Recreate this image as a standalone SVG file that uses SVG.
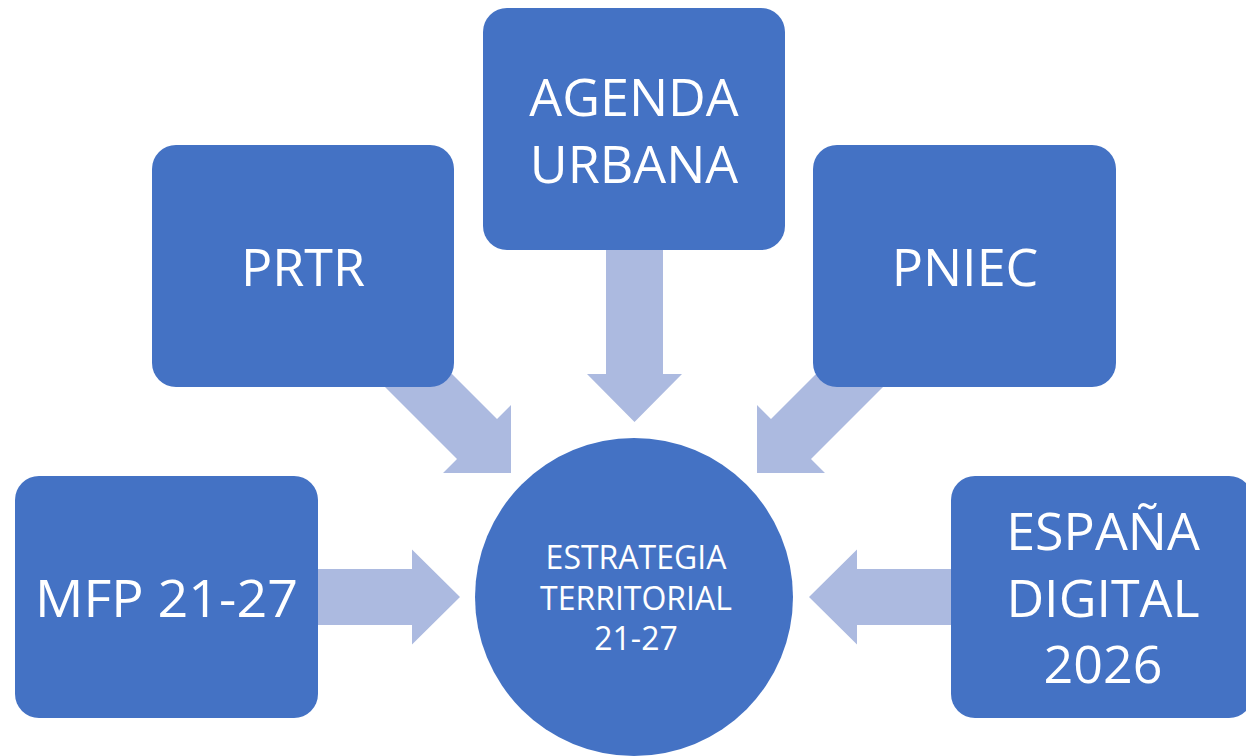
<svg xmlns="http://www.w3.org/2000/svg" width="1246" height="756" viewBox="0 0 1246 756">
<style>
.box{fill:#4472C4}
.arr{fill:#ACBAE0}
.t{font-family:"Open Sans","Noto Sans","DejaVu Sans",sans-serif;fill:#FFFFFF;text-anchor:middle}
.big{font-size:52px}
.small{font-size:32px}
</style>
<rect width="1246" height="756" fill="#FFFFFF"/>
<g id="connectors">
<polygon class="arr" points="300,569 412,569 412,549.5 460,597 412,644.5 412,625 300,625"/>
<polygon class="arr" points="960,569 857,569 857,549.5 809,597 857,644.5 857,625 960,625"/>
<polygon class="arr" points="606,240 663,240 663,374 682,374 634.5,422 587,374 606,374"/>
<polygon class="arr" points="412,334 497,419 511,405 511,473 443,473 457,459 372,374"/>
<polygon class="arr" points="856,334 771,419 757,405 757,473 825,473 811,459 896,374"/>
</g>
<g id="node-agenda">
<rect class="box" x="483" y="8" width="302" height="242" rx="24"/>
<text class="t big" x="634" y="116">AGENDA</text>
<text class="t big" x="634" y="183">URBANA</text>
</g>
<g id="node-prtr">
<rect class="box" x="152" y="145" width="302" height="242" rx="24"/>
<text class="t big" x="303" y="286">PRTR</text>
</g>
<g id="node-pniec">
<rect class="box" x="813" y="145" width="303" height="242" rx="24"/>
<text class="t big" x="965" y="286">PNIEC</text>
</g>
<g id="node-mfp">
<rect class="box" x="15" y="476" width="303" height="242" rx="24"/>
<text class="t big" x="166.5" y="617" textLength="263" lengthAdjust="spacingAndGlyphs">MFP 21-27</text>
</g>
<g id="node-espana">
<rect class="box" x="951" y="476" width="302" height="242" rx="24"/>
<text class="t big" x="1103" y="550">ESPAÑA</text>
<text class="t big" x="1103" y="617">DIGITAL</text>
<text class="t big" x="1103" y="683">2026</text>
</g>
<g id="node-estrategia">
<circle class="box" cx="634" cy="597" r="159"/>
<text class="t small" x="636" y="569">ESTRATEGIA</text>
<text class="t small" x="636" y="610">TERRITORIAL</text>
<text class="t small" x="636" y="650">21-27</text>
</g>
</svg>
